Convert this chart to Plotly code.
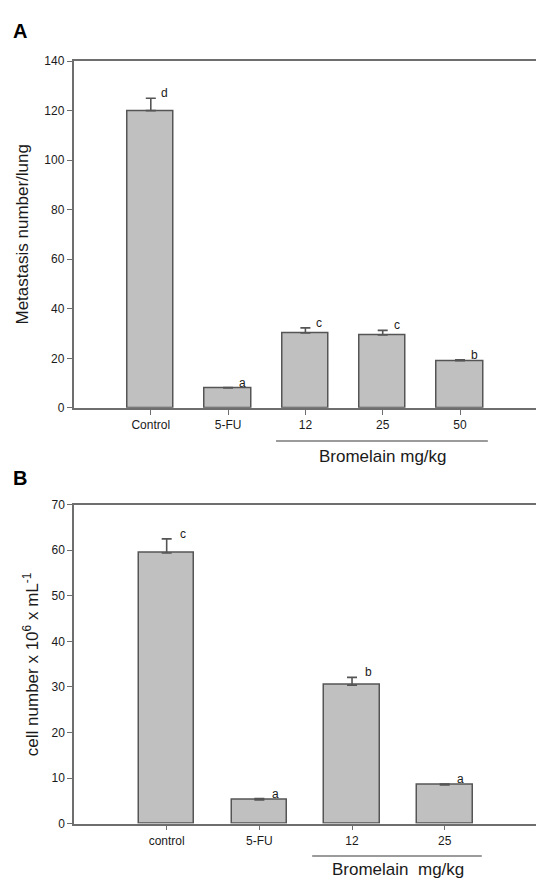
import plotly.graph_objects as go

# ---------------- data ----------------
cats_a = ["Control", "5-FU", "12", "25", "50"]
mean_a = [120.0, 8.0, 30.2, 29.4, 19.0]
err_a = [5.0, 0.2, 2.1, 1.9, 0.4]
sig_a = ["d", "a", "c", "c", "b"]
yticks_a = [0, 20, 40, 60, 80, 100, 120, 140]

cats_b = ["control", "5-FU", "12", "25"]
mean_b = [59.4, 5.2, 30.4, 8.5]
err_b = [3.1, 0.3, 1.7, 0.2]
sig_b = ["c", "a", "b", "a"]
yticks_b = [0, 10, 20, 30, 40, 50, 60, 70]

group_label_a = "Bromelain mg/kg"
group_label_b = "Bromelain  mg/kg"

# ---------------- style ----------------
W, H = 536, 886
FONT = "Liberation Sans, Arial, sans-serif"
TXT = "#1a1a1a"
AX = "#6e6e6e"
BAR_FILL = "#c0c0c0"
BAR_LINE = "#555555"


def px_x(p):
    return p / W


def px_y(p):
    return 1 - p / H


fig = go.Figure()

idx_a = list(range(len(cats_a)))
idx_b = list(range(len(cats_b)))

fig.add_trace(go.Bar(
    x=idx_a, y=mean_a, width=0.6, xaxis="x", yaxis="y",
    marker=dict(color=BAR_FILL, line=dict(color=BAR_LINE, width=1.5)),
    error_y=dict(type="data", symmetric=False, array=err_a,
                 arrayminus=[0] * len(err_a), color=BAR_LINE, thickness=1.6, width=5),
    showlegend=False, hoverinfo="skip"))

fig.add_trace(go.Bar(
    x=idx_b, y=mean_b, width=0.6, xaxis="x2", yaxis="y2",
    marker=dict(color=BAR_FILL, line=dict(color=BAR_LINE, width=1.5)),
    error_y=dict(type="data", symmetric=False, array=err_b,
                 arrayminus=[0] * len(err_b), color=BAR_LINE, thickness=1.6, width=5),
    showlegend=False, hoverinfo="skip"))

common_x = dict(showline=True, linecolor=AX, linewidth=1.5, mirror=True,
                ticks="outside", ticklen=5, tickwidth=1.2, tickcolor=AX,
                showgrid=False, zeroline=False,
                tickfont=dict(family=FONT, size=12, color=TXT))
common_y = dict(showline=True, linecolor=AX, linewidth=1.5, mirror=False,
                ticks="outside", ticklen=5, tickwidth=1.2, tickcolor=AX,
                showgrid=False, zeroline=False,
                tickfont=dict(family=FONT, size=12, color=TXT))

fig.update_layout(
    width=W, height=H,
    margin=dict(l=0, r=0, t=0, b=0),
    paper_bgcolor="white", plot_bgcolor="white",
    font=dict(family=FONT, color=TXT),
    bargap=0,
    xaxis=dict(domain=[px_x(73.5), 1.0], range=[-1, 4.983],
               tickmode="array", tickvals=idx_a, ticktext=cats_a,
               anchor="y", **common_x),
    yaxis=dict(domain=[px_y(407.3), px_y(55)], range=[0, 140],
               tickmode="array", tickvals=yticks_a,
               anchor="x", **common_y),
    xaxis2=dict(domain=[px_x(74), 1.0], range=[-1, 3.985],
                tickmode="array", tickvals=idx_b, ticktext=cats_b,
                anchor="y2", **common_x),
    yaxis2=dict(domain=[px_y(829.7), px_y(505.7)], range=[0, 70],
                tickmode="array", tickvals=yticks_b,
                anchor="x2", **common_y),
)

ann = []
# significance letters
for i, (m, e, s) in enumerate(zip(mean_a, err_a, sig_a)):
    ann.append(dict(x=i, y=m + e, xref="x", yref="y", text=s, showarrow=False,
                    xshift=14, yshift=5, yanchor="middle",
                    font=dict(family=FONT, size=12, color=TXT)))
for i, (m, e, s) in enumerate(zip(mean_b, err_b, sig_b)):
    ann.append(dict(x=i, y=m + e, xref="x2", yref="y2", text=s, showarrow=False,
                    xshift=16, yshift=5, yanchor="middle",
                    font=dict(family=FONT, size=12, color=TXT)))

# axis titles
ann.append(dict(x=px_x(22), y=(px_y(407.3) + px_y(55)) / 2, xref="paper", yref="paper",
                text="Metastasis number/lung", textangle=-90, showarrow=False,
                xanchor="center", yanchor="middle",
                font=dict(family=FONT, size=17, color=TXT)))
ann.append(dict(x=px_x(31), y=(px_y(829.7) + px_y(505.7)) / 2, xref="paper", yref="paper",
                text="cell number x 10<sup>6</sup> x mL<sup>-1</sup>", textangle=-90,
                showarrow=False, xanchor="center", yanchor="middle",
                font=dict(family=FONT, size=17, color=TXT)))

# panel letters
ann.append(dict(x=px_x(11), y=px_y(24), xref="paper", yref="paper", text="<b>A</b>",
                showarrow=False, xanchor="left", yanchor="middle",
                font=dict(family=FONT, size=20, color="#000")))
ann.append(dict(x=px_x(11), y=px_y(479), xref="paper", yref="paper", text="<b>B</b>",
                showarrow=False, xanchor="left", yanchor="middle",
                font=dict(family=FONT, size=20, color="#000")))

# group labels under the dose categories
ann.append(dict(x=3, y=px_y(456.7), xref="x", yref="paper", text=group_label_a,
                showarrow=False, xanchor="center", yanchor="middle",
                font=dict(family=FONT, size=17, color=TXT)))
ann.append(dict(x=2.5, y=px_y(876.7), xref="x2", yref="paper", text=group_label_b,
                showarrow=False, xanchor="center", yanchor="middle",
                font=dict(family=FONT, size=17, color=TXT)))

fig.update_layout(annotations=ann)

shapes = [
    dict(type="line", xref="x", yref="paper", x0=2 - 0.38, x1=4 + 0.36,
         y0=px_y(441), y1=px_y(441), line=dict(color="#7a7a7a", width=1.5)),
    dict(type="line", xref="x2", yref="paper", x0=2 - 0.43, x1=3 + 0.40,
         y0=px_y(862.7), y1=px_y(862.7), line=dict(color="#7a7a7a", width=1.5)),
]
fig.update_layout(shapes=shapes)

fig.write_html(
    "out.html",
    config={"displayModeBar": False},
    post_script="document.body.style.margin='0';document.body.style.overflow='hidden';",
)
